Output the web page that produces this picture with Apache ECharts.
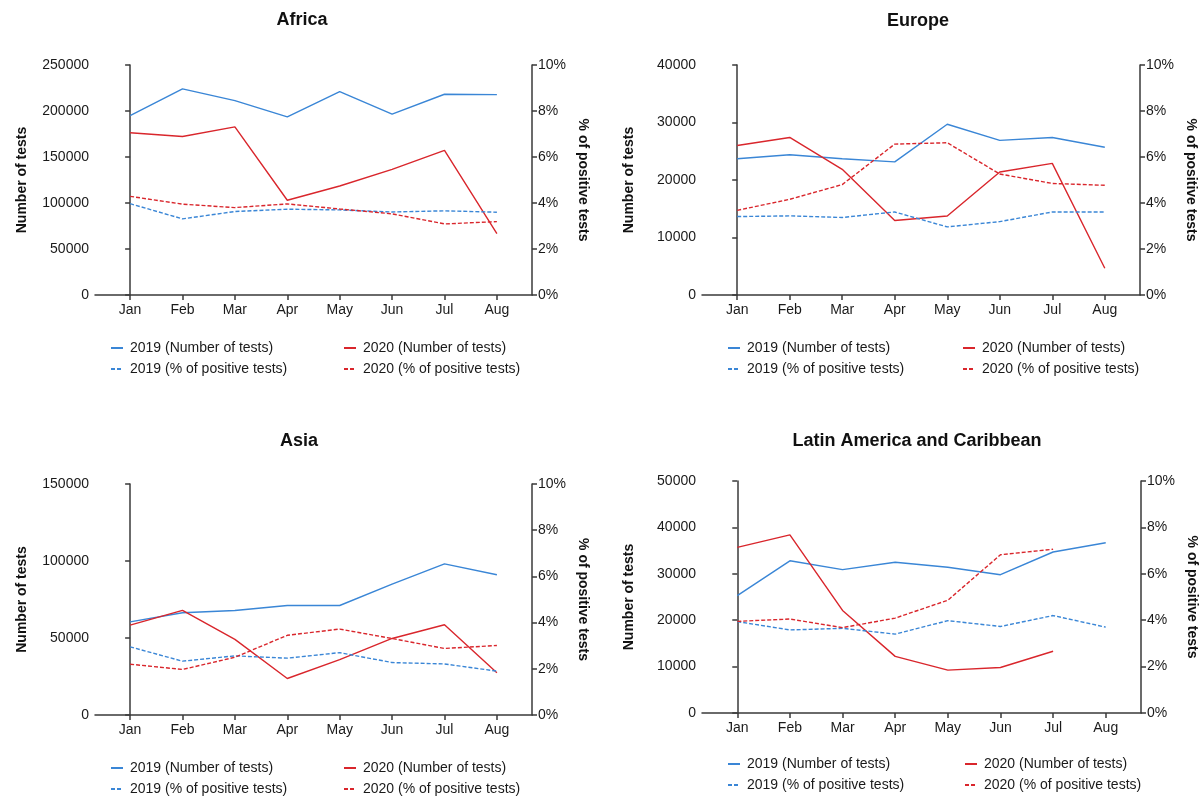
<!DOCTYPE html>
<html>
<head>
<meta charset="utf-8">
<script src="https://cdn.jsdelivr.net/npm/echarts@6/dist/echarts.min.js"></script>
<style>
html,body{margin:0;padding:0;background:#fff;}
#chart{width:1200px;height:796px;}
</style>
</head>
<body>
<div id="chart"></div>
<script>
// ---- Data ----
const months = ['Jan','Feb','Mar','Apr','May','Jun','Jul','Aug'];
const panelTitles = ['Africa','Europe','Asia','Latin America and Caribbean'];
const seriesNames = ['2019 (Number of tests)','2020 (Number of tests)','2019 (% of positive tests)','2020 (% of positive tests)'];

const africaTests2019 = [195000, 224000, 211300, 193600, 221100, 196500, 218200, 217800];
const africaTests2020 = [176300, 172300, 182800, 103000, 118500, 136600, 157200, 66800];
const africaPos2019   = [3.97, 3.31, 3.63, 3.73, 3.70, 3.61, 3.66, 3.60];
const africaPos2020   = [4.29, 3.95, 3.80, 3.96, 3.74, 3.53, 3.09, 3.19];

const europeTests2019 = [23700, 24400, 23700, 23150, 29700, 26900, 27400, 25700];
const europeTests2020 = [26000, 27400, 21850, 12950, 13750, 21400, 22900, 4650];
const europePos2019   = [3.41, 3.44, 3.37, 3.61, 2.96, 3.19, 3.61, 3.61];
const europePos2020   = [3.68, 4.16, 4.80, 6.56, 6.62, 5.26, 4.85, 4.77];

const asiaTests2019 = [60500, 66400, 67900, 71100, 71100, 85000, 98100, 91100];
const asiaTests2020 = [58400, 67900, 49100, 23700, 36000, 49700, 58600, 27400];
const asiaPos2019   = [2.95, 2.33, 2.56, 2.46, 2.70, 2.27, 2.21, 1.90];
const asiaPos2020   = [2.20, 1.97, 2.50, 3.45, 3.72, 3.31, 2.88, 3.01];

const latamTests2019 = [25300, 32800, 30900, 32500, 31400, 29800, 34700, 36700];
const latamTests2020 = [35700, 38400, 22100, 12200, 9250, 9800, 13300];
const latamPos2019   = [3.94, 3.58, 3.65, 3.40, 3.98, 3.73, 4.20, 3.70];
const latamPos2020   = [3.95, 4.05, 3.68, 4.09, 4.86, 6.82, 7.06];

const testsMax = [250000, 40000, 150000, 50000];
const testsInterval = [50000, 10000, 50000, 10000];
const pctTicks = ['0%','2%','4%','6%','8%','10%'];

// ---- Styling ----
const BLUE = '#3a86d6';
const RED = '#d9262c';
const AXIS = '#3a3a3a';
const FONT = 'Liberation Sans, Arial, Helvetica, sans-serif';

const panels = [
  {grid:{left:95, top:65, width:437, height:230}, title:{x:302, y:11}, legendTop:341, legendLeft:[110, 343],
   data:[africaTests2019, africaTests2020, africaPos2019, africaPos2020]},
  {grid:{left:702, top:65, width:438, height:230}, title:{x:918, y:12}, legendTop:341, legendLeft:[727, 962],
   data:[europeTests2019, europeTests2020, europePos2019, europePos2020]},
  {grid:{left:95, top:484, width:437, height:231}, title:{x:299, y:432}, legendTop:761, legendLeft:[110, 343],
   data:[asiaTests2019, asiaTests2020, asiaPos2019, asiaPos2020]},
  {grid:{left:702, top:481, width:440, height:232}, title:{x:917, y:432}, legendTop:757, legendLeft:[727, 964],
   data:[latamTests2019, latamTests2020, latamPos2019, latamPos2020]}
];

const option = {
  backgroundColor: '#fff',
  animation: false,
  textStyle: {fontFamily: FONT},
  title: [], grid: [], xAxis: [], yAxis: [], legend: [], series: []
};

const axisCommon = {
  axisLine: {show: true, lineStyle: {color: AXIS, width: 1.5}},
  axisTick: {show: true, length: 5, lineStyle: {color: AXIS, width: 1.5}},
  splitLine: {show: false}
};

const idx = months.map((m, i) => i);

panels.forEach((p, k) => {
  option.title.push({
    text: panelTitles[k], left: p.title.x, top: p.title.y, textAlign: 'center', padding: 0,
    textStyle: {fontSize: 18, fontWeight: 'bold', color: '#111', fontFamily: FONT}
  });
  option.grid.push(Object.assign({containLabel: false}, p.grid));
  option.xAxis.push({
    type: 'value', gridIndex: k, min: -0.67, max: 7.67,
    axisLine: axisCommon.axisLine,
    axisTick: {show: true, length: 5, lineStyle: {color: AXIS, width: 1.5}, customValues: idx},
    axisLabel: {color: '#1a1a1a', fontSize: 14, fontFamily: FONT, margin: 8, customValues: idx,
      formatter: v => months[Math.round(v)]},
    splitLine: {show: false}
  });
  option.yAxis.push(Object.assign({}, axisCommon, {
    type: 'value', gridIndex: k, position: 'left', min: 0, max: testsMax[k], interval: testsInterval[k],
    name: 'Number of tests', nameLocation: 'middle', nameGap: 66, nameRotate: 90,
    nameTextStyle: {fontSize: 14, fontWeight: 'bold', color: '#111', fontFamily: FONT},
    axisLabel: {color: '#1a1a1a', fontSize: 14, fontFamily: FONT, margin: 6, formatter: v => String(v)}
  }));
  option.yAxis.push(Object.assign({}, axisCommon, {
    type: 'value', gridIndex: k, position: 'right', min: 0, max: 10, interval: 2,
    name: '% of positive tests', nameLocation: 'middle', nameGap: 44, nameRotate: -90,
    nameTextStyle: {fontSize: 14, fontWeight: 'bold', color: '#111', fontFamily: FONT},
    axisLabel: {color: '#1a1a1a', fontSize: 14, fontFamily: FONT, margin: 6,
      formatter: v => pctTicks[Math.round(v / 2)]}
  }));
  const legendBase = {
    orient: 'vertical', top: p.legendTop, itemWidth: 12, itemHeight: 12, itemGap: 7,
    padding: 0, selectedMode: false,
    itemStyle: {opacity: 0},
    textStyle: {fontSize: 14, color: '#1a1a1a', fontFamily: FONT, padding: [0, 0, 0, 2]}
  };
  option.legend.push(Object.assign({}, legendBase, {left: p.legendLeft[0], data: [seriesNames[0], seriesNames[2]]}));
  option.legend.push(Object.assign({}, legendBase, {left: p.legendLeft[1], data: [seriesNames[1], seriesNames[3]]}));

  p.data.forEach((arr, s) => {
    const isPct = s >= 2;
    const color = (s % 2 === 0) ? BLUE : RED;
    option.series.push({
      type: 'line', name: seriesNames[s],
      xAxisIndex: k, yAxisIndex: k * 2 + (isPct ? 1 : 0),
      data: arr.map((v, i) => [i, v]),
      symbol: 'none', showSymbol: false,
      itemStyle: {color: color},
      lineStyle: {color: color, width: 1.4, type: isPct ? [4, 2] : 'solid'},
      emphasis: {disabled: true}
    });
  });
});

const chart = echarts.init(document.getElementById('chart'), null, {renderer: 'canvas'});
chart.setOption(option);
</script>
</body>
</html>
